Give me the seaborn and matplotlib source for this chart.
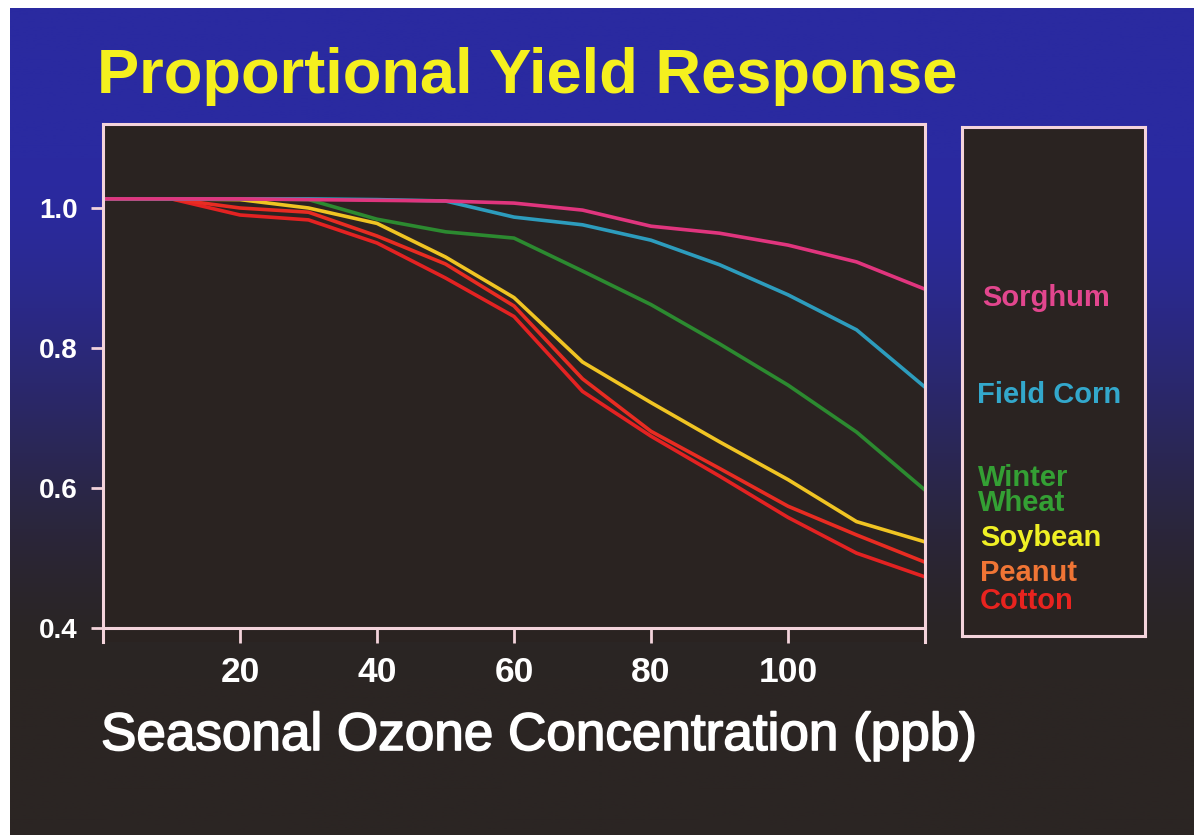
import numpy as np
import pandas as pd
import matplotlib
matplotlib.use("Agg")
import matplotlib.pyplot as plt
import matplotlib.patheffects as pe
import seaborn as sns

# values, seasonal ozone (ppb) vs proportional yield
ozone = [0, 10, 20, 30, 40, 50, 60, 70, 80, 90, 100, 110, 120]
cotton = [1.013, 1.013, 0.990, 0.983, 0.950, 0.900, 0.845, 0.738, 0.674, 0.617, 0.558, 0.507, 0.473]
peanut = [1.013, 1.013, 1.000, 0.994, 0.960, 0.920, 0.860, 0.756, 0.681, 0.628, 0.574, 0.533, 0.494]
soybean = [1.013, 1.013, 1.012, 1.000, 0.978, 0.930, 0.872, 0.780, 0.722, 0.666, 0.612, 0.552, 0.523]
winter_wheat = [1.013, 1.013, 1.013, 1.012, 0.984, 0.966, 0.957, 0.910, 0.862, 0.806, 0.747, 0.680, 0.597]
field_corn = [1.013, 1.013, 1.013, 1.013, 1.012, 1.010, 0.987, 0.976, 0.954, 0.919, 0.876, 0.826, 0.744]
sorghum = [1.013, 1.013, 1.013, 1.012, 1.011, 1.010, 1.007, 0.997, 0.974, 0.964, 0.947, 0.923, 0.884]

crops = ["Cotton", "Peanut", "Soybean", "Winter Wheat", "Field Corn", "Sorghum"]
box_labels = ["Cotton", "Peanut", "Soybean", "Winter\nWheat", "Field Corn", "Sorghum"]
series = [cotton, peanut, soybean, winter_wheat, field_corn, sorghum]
line_colors = ["#e32222", "#e82c22", "#f0c423", "#2c8a30", "#2d9cbd", "#e0357e"]
label_colors = ["#e8231f", "#f07535", "#f0f025", "#34a034", "#33a8cc", "#e2468e"]
y_ticks = [0.4, 0.6, 0.8, 1.0]
x_ticks = [20, 40, 60, 80, 100]

df = pd.DataFrame({
    "ozone": ozone * len(crops),
    "yield": [v for s in series for v in s],
    "crop": [c for c in crops for _ in ozone],
})

sns.set_theme(style="dark")
plt.rcParams["font.family"] = ["Liberation Sans", "DejaVu Sans"]

W, H = 1194, 835
fig = plt.figure(figsize=(W / 100, H / 100), dpi=100, facecolor="white")

# slide background: blue fading to dark
bg = fig.add_axes([10 / W, 0, 1 - 10 / W, 1 - 8 / H])
yy = np.linspace(0, 1, 400)[:, None]
t = np.clip((yy * 827 - 150) / 520, 0, 1)
t = t * t * (3 - 2 * t)
top = np.array([42, 42, 160]) / 255
bottom = np.array([43, 37, 35]) / 255
grad = (top * (1 - t[..., None]) + bottom * t[..., None]) * np.ones((1, 2, 1))
bg.imshow(grad, aspect="auto", extent=[0, 1, 0, 1], origin="upper")
bg.set_axis_off()

dark = "#2a2321"
edge = "#f3d3db"

ax = fig.add_axes([103 / W, 1 - 642 / H, (925 - 103) / W, (642 - 124) / H])
ax.set_facecolor(dark)
sns.lineplot(data=df, x="ozone", y="yield", hue="crop", hue_order=crops,
             palette=dict(zip(crops, line_colors)), linewidth=2.6,
             legend=False, errorbar=None, ax=ax)
ax.set_xlim(0, 120)
ax.set_ylim(0.38, 1.12)
ax.spines["bottom"].set_position(("data", 0.4))
for s in ax.spines.values():
    s.set_color(edge)
    s.set_linewidth(2.2)
ax.set_xticks(x_ticks)
ax.set_xticklabels([str(v) for v in x_ticks])
ax.set_yticks(y_ticks)
ax.set_yticklabels([f"{v:.1f}" for v in y_ticks])
ax.tick_params(axis="x", colors=edge, length=11, width=2, pad=9,
               labelsize=25.5, labelcolor="white", bottom=True)
ax.tick_params(axis="y", colors=edge, length=9, width=2, pad=9,
               labelsize=20, labelcolor="white", left=True)
for lab in ax.get_xticklabels() + ax.get_yticklabels():
    lab.set_fontweight("bold")
ax.set_xlabel("")
ax.set_ylabel("")
ax.grid(False)

fig.text(97 / W, 1 - 93 / H, "Proportional Yield Response", color="#f5f01e",
         fontsize=45.5, fontweight="bold", va="baseline", ha="left")
xl = fig.text(101 / W, 1 - 750 / H, "Seasonal Ozone Concentration (ppb)", color="white",
              fontsize=38.2, va="baseline", ha="left")
xl.set_path_effects([pe.withStroke(linewidth=1.2, foreground="white")])

# label box on the right
lg = fig.add_axes([962 / W, 1 - 636 / H, (1145 - 962) / W, (636 - 127) / H])
lg.set_facecolor(dark)
lg.set_xticks([])
lg.set_yticks([])
for s in lg.spines.values():
    s.set_color(edge)
    s.set_linewidth(2.2)
label_pos = [(0.098, 0.0688), (0.098, 0.1238), (0.098, 0.1925),
             (0.087, 0.286), (0.082, 0.4735), (0.109, 0.664)]
for text, col, (x, y) in zip(box_labels, label_colors, label_pos):
    lg.text(x, y, text, color=col, fontsize=21, fontweight="bold",
            va="center", ha="left", linespacing=0.85, transform=lg.transAxes)

fig.savefig("out.png", dpi=100, facecolor="white")
